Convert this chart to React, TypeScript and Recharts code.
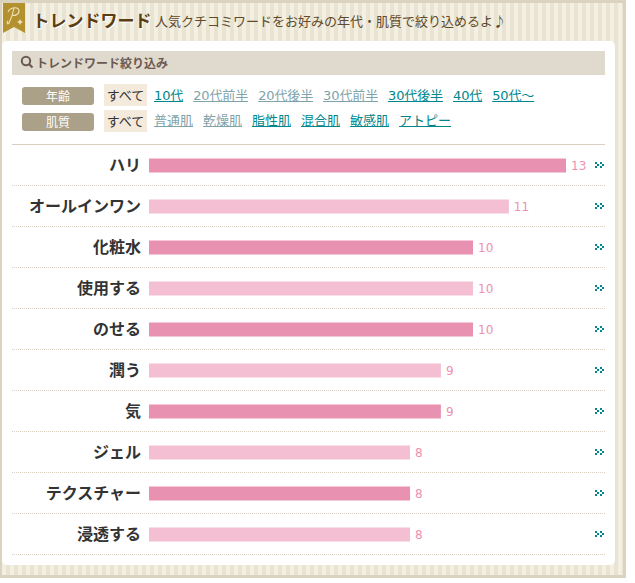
import React from 'react';
import { BarChart, Bar, XAxis, YAxis, Cell, LabelList } from 'recharts';

const words = ['ハリ', 'オールインワン', '化粧水', '使用する', 'のせる', '潤う', '気', 'ジェル', 'テクスチャー', '浸透する'];
const counts = [13, 11, 10, 10, 10, 9, 9, 8, 8, 8];
// bar length as percent of the longest bar, the site does not scale them exactly by count
const shares = [100, 86.3, 77.7, 77.7, 77.7, 70, 70, 62.6, 62.6, 62.6];
const barColors = ['#e991b1', '#f4bfd2'];

const ageFilters = ['10代', '20代前半', '20代後半', '30代前半', '30代後半', '40代', '50代～'];
const skinFilters = ['普通肌', '乾燥肌', '脂性肌', '混合肌', '敏感肌', 'アトピー'];
const fadedFilters = ['20代前半', '20代後半', '30代前半', '普通肌', '乾燥肌'];

const tableData = words.map((word, i) => ({ word, count: counts[i], share: shares[i] }));

const FONT = '"Noto Sans CJK JP", "Noto Sans", sans-serif';
const LATIN_FONT = '"DejaVu Sans", "Noto Sans CJK JP", sans-serif';

const ArrowTick = ({ x, y }: any) => {
  const cells = [[0, 0], [5, 0], [2, 2], [7, 2], [0, 4], [5, 4]];
  return (
    <g>
      {cells.map(([cx, cy]) => (
        <rect key={`${cx}-${cy}`} x={x + 29 + cx} y={y - 3 + cy} width={2} height={2} fill="#00868b" />
      ))}
    </g>
  );
};

const FilterRow = ({ label, top, items }: { label: string; top: number; items: string[] }) => (
  <>
    <div style={{ position: 'absolute', left: 22, top: top + 3, width: 72, height: 18, lineHeight: '18px', background: '#aba188', borderRadius: 3, color: '#fff', fontSize: 12, textAlign: 'center' }}>{label}</div>
    <div style={{ position: 'absolute', left: 104, top, width: 43, height: 22, lineHeight: '22px', background: '#f3eadc', color: '#333', fontSize: 13, textAlign: 'center' }}>すべて</div>
    <div style={{ position: 'absolute', left: 154, top, height: 22, lineHeight: '22px', display: 'flex', gap: 10, fontSize: 13, fontFamily: LATIN_FONT, whiteSpace: 'nowrap' }}>
      {items.map(item => {
        const hasDigits = /^\d/.test(item);
        return (
          <span key={item} style={{
            color: fadedFilters.includes(item) ? '#7fa3ab' : '#00868b',
            textDecoration: 'underline',
            position: 'relative',
            top: hasDigits ? 1 : 0,
            letterSpacing: hasDigits ? -0.12 : 0,
          }}>{item}</span>
        );
      })}
    </div>
  </>
);

export default function App() {
  return (
    <div style={{ position: 'absolute', left: 0, top: 0, width: 635, height: 583, background: '#fff', fontFamily: FONT, overflow: 'hidden' }}>
      <div style={{
        position: 'absolute', left: 0, top: 0, width: 626, height: 578, boxSizing: 'border-box',
        borderTop: '3px solid #dad3bf', borderRight: '3px solid #dad3bf', borderBottom: '3px solid #dad3bf', borderLeft: '2px solid #dad3bf',
        background: 'repeating-linear-gradient(90deg, #f3efe3 0 4px, #e9e3d2 4px 8px)',
      }} />

      <svg style={{ position: 'absolute', left: 3, top: 3 }} width={22} height={30}>
        <polygon points="0,0 22,0 22,30 11,24 0,30" fill="#b3912f" />
        <path d="M5 9 C7 4 16 3 16 8 C16 12 11 13 9 12 M11 5 C10 10 8 16 6 20 C5 22 3 20 5 18" fill="none" stroke="#efe3bd" strokeWidth={1.1} />
        <path d="M17 16 L18 18 L20 19 L18 20 L17 22 L16 20 L14 19 L16 18 Z" fill="#efe3bd" />
      </svg>

      <div style={{ position: 'absolute', left: 32.5, top: 7, fontSize: 17, lineHeight: '26px', fontWeight: 700, color: '#5a3d10', textShadow: '1px 1px 0 #fff', whiteSpace: 'nowrap' }}>トレンドワード</div>
      <div style={{ position: 'absolute', left: 155, top: 10, fontSize: 13, lineHeight: '22px', color: '#5f4a2a', whiteSpace: 'nowrap' }}>人気クチコミワードをお好みの年代・肌質で絞り込めるよ♪</div>

      <div style={{ position: 'absolute', left: 2, top: 41, width: 613, height: 524, background: '#fff', borderRadius: 5 }} />

      <div style={{ position: 'absolute', left: 12, top: 51, width: 593, height: 24, background: '#e0d9cd' }} />
      <svg style={{ position: 'absolute', left: 20, top: 55 }} width={14} height={15}>
        <circle cx={6} cy={6} r={4.2} fill="none" stroke="#6b5a50" strokeWidth={2} />
        <line x1={9} y1={9} x2={12.5} y2={12.5} stroke="#6b5a50" strokeWidth={2.2} />
      </svg>
      <div style={{ position: 'absolute', left: 36, top: 51, lineHeight: '24px', fontSize: 12, fontWeight: 700, color: '#6b5a50' }}>トレンドワード絞り込み</div>

      <FilterRow label="年齢" top={84} items={ageFilters} />
      <FilterRow label="肌質" top={110} items={skinFilters} />

      <div style={{ position: 'absolute', left: 12, top: 144, width: 593, height: 1, background: '#d8cfc0' }} />
      {words.map((word, i) => (
        <div key={word} style={{ position: 'absolute', left: 12, top: 144 + (i + 1) * 41, width: 593, borderTop: '1px dotted #d8cfc0' }} />
      ))}

      <div style={{ position: 'absolute', left: 12, top: 144 }}>
        <BarChart width={594} height={411} data={tableData} layout="vertical" margin={{ top: 0.5, right: 0, bottom: 0.5, left: 0 }} barSize={14}>
          <XAxis type="number" domain={[0, 100]} hide />
          <YAxis yAxisId="left" dataKey="word" type="category" width={137} axisLine={false} tickLine={false} tickSize={0} tickMargin={8} interval={0} tick={{ fontSize: 16, fontWeight: 700, fill: '#333', fontFamily: FONT }} />
          <YAxis yAxisId="right" orientation="right" dataKey="word" type="category" width={40} axisLine={false} tickLine={false} tickSize={0} tickMargin={0} interval={0} tick={<ArrowTick />} />
          <Bar yAxisId="left" dataKey="share" isAnimationActive={false}>
            {tableData.map((_, i) => (
              <Cell key={i} fill={barColors[i % 2]} />
            ))}
            <LabelList dataKey="count" position="right" offset={5} fill="#ee90b0" fontSize={12} fontFamily={LATIN_FONT} />
          </Bar>
        </BarChart>
      </div>
    </div>
  );
}
